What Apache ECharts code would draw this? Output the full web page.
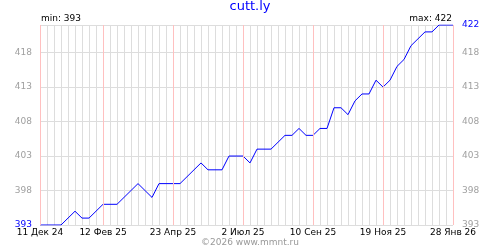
<!DOCTYPE html>
<html><head><meta charset="utf-8">
<script src="https://cdn.jsdelivr.net/npm/echarts@6/dist/echarts.min.js"></script>
<style>html,body{margin:0;padding:0;background:#fff}#c{width:500px;height:250px}</style>
</head><body><div id="c"></div>
<script>
const chartTitle = 'cutt.ly';
const footer = '©2026 www.mmnt.ru';
const values = [393,393,393,393,394,395,394,394,395,396,396,396,397,398,399,398,397,399,399,399,399,400,401,402,401,401,401,403,403,403,402,404,404,404,405,406,406,407,406,406,407,407,410,410,409,411,412,412,414,413,414,416,417,419,420,421,421,422,422,422];
const tickWeeks = [0, 9, 19, 29, 39, 49, 59];
const tickLabels = ['11 Дек 24','12 Фев 25','23 Апр 25','2 Июл 25','10 Сен 25','19 Ноя 25','28 Янв 26'];
const yStep = 5;

const minV = Math.min(...values), maxV = Math.max(...values);
const pts = values.map((v, i) => [i, v]);
const FONT = 'DejaVu Sans';
const chart = echarts.init(document.getElementById('c'), null, {renderer: 'canvas'});
chart.setOption({
  animation: false,
  backgroundColor: '#fff',
  title: [
    {text: chartTitle, left: 'center', top: 0, padding: 0, textStyle: {fontFamily: FONT, fontSize: 13, fontWeight: 'normal', color: '#0000ff'}},
    {text: 'min: ' + minV, left: 41, top: 14, padding: 0, textStyle: {fontFamily: FONT, fontSize: 9, fontWeight: 'normal', color: '#000'}},
    {text: 'max: ' + maxV, right: 48, top: 14, padding: 0, textStyle: {fontFamily: FONT, fontSize: 9, fontWeight: 'normal', color: '#000'}},
    {text: footer, left: 'center', top: 238, padding: 0, textStyle: {fontFamily: FONT, fontSize: 9, fontWeight: 'normal', color: '#999'}}
  ],
  grid: {left: 40, right: 47, top: 25, bottom: 25, containLabel: false},
  xAxis: {
    type: 'value', min: 0, max: values.length - 1, interval: 1,
    axisLine: {show: false}, axisTick: {show: false},
    splitLine: {show: true, lineStyle: {color: '#dddddd', width: 1}},
    axisLabel: {
      margin: 3, fontFamily: FONT, fontSize: 9, color: '#000',
      formatter: v => { const k = tickWeeks.indexOf(Math.round(v)); return k >= 0 ? tickLabels[k] : ''; }
    }
  },
  yAxis: [
    {
      type: 'value', position: 'left', min: minV, max: maxV, interval: yStep,
      axisLine: {show: false}, axisTick: {show: false},
      splitLine: {show: true, lineStyle: {color: '#dddddd', width: 1}},
      axisLabel: {
        margin: 8, fontFamily: FONT, fontSize: 9,
        formatter: v => v === maxV ? '' : (v === minV ? '{b|' + v + '}' : '{g|' + v + '}'),
        rich: {b: {color: '#0000ff', fontFamily: FONT, fontSize: 9}, g: {color: '#a0a0a0', fontFamily: FONT, fontSize: 9}}
      }
    },
    {
      type: 'value', position: 'right', min: minV, max: maxV, interval: yStep,
      axisLine: {show: false}, axisTick: {show: false}, splitLine: {show: false},
      axisLabel: {
        margin: 9, fontFamily: FONT, fontSize: 9,
        formatter: v => v === maxV ? '{b|' + v + '}' : '{g|' + v + '}',
        rich: {b: {color: '#0000ff', fontFamily: FONT, fontSize: 9}, g: {color: '#a0a0a0', fontFamily: FONT, fontSize: 9}}
      }
    }
  ],
  series: [
    {
      type: 'line', data: pts, z: 1, silent: true, showSymbol: false,
      lineStyle: {opacity: 0},
      markLine: {
        silent: true, symbol: ['none', 'none'], label: {show: false},
        lineStyle: {color: '#ffc0c0', type: 'solid', width: 1},
        data: tickWeeks.map(w => ({xAxis: w}))
      }
    },
    {
      type: 'line', data: pts, z: 3, showSymbol: false, silent: true,
      lineStyle: {color: '#0000ff', width: 1}
    }
  ]
});
</script></body></html>
